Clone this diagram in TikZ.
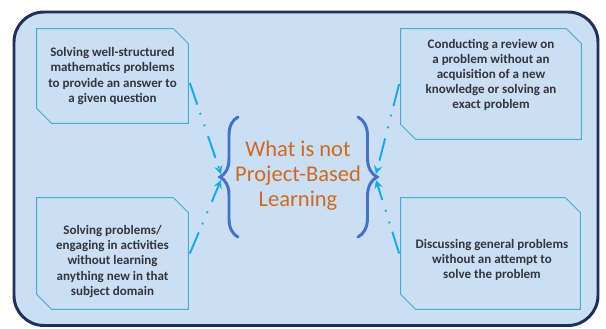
\documentclass[tikz,border=0pt]{standalone}
\usepackage{fontspec}
\setmainfont{Carlito}
\usetikzlibrary{arrows, decorations.pathreplacing, positioning}

\definecolor{framenavy}{RGB}{32,48,88}
\definecolor{paleblue}{RGB}{202,223,244}
\definecolor{boxline}{RGB}{78,168,208}
\definecolor{boxtextgray}{RGB}{52,52,60}
\definecolor{titleorange}{RGB}{205,105,35}
\definecolor{bracketblue}{RGB}{68,114,196}
\definecolor{linkcyan}{RGB}{20,170,230}

\begin{document}
\begin{tikzpicture}[
    % Node styles
    boxarea/.style={rectangle, inner sep=0pt},
    snipedge/.style={draw=boxline, line width=0.5pt, fill=paleblue},
    boxtext/.style={align=center, text=boxtextgray, font=\fontsize{7.4}{8.6}\selectfont\bfseries},
    title/.style={align=center, text=titleorange, font=\fontsize{12.8}{14.2}\selectfont},
    bracket/.style={decorate, draw=bracketblue, line width=1.7pt, line cap=round},
    link/.style={->, >=stealth, draw=linkcyan, line width=1.1pt,
                 dash pattern=on 13pt off 5pt on 1pt off 6pt on 1pt off 6pt}
]
\useasboundingbox (0,0) rectangle (12.12,6.58);

% Frame
\draw[framenavy, fill=paleblue, line width=1.7pt, rounded corners=0.6cm] (0.28,0.07) rectangle (11.96,6.34);

% Boxes
\node[boxarea, minimum width=3.02cm, minimum height=1.88cm] (tl) at (2.25,5.06) {};
\node[boxarea, minimum width=3.60cm, minimum height=2.20cm] (tr) at (9.82,4.90) {};
\node[boxarea, minimum width=3.02cm, minimum height=2.22cm] (bl) at (2.25,1.51) {};
\node[boxarea, minimum width=3.58cm, minimum height=2.22cm] (br) at (9.81,1.51) {};

% Snipped corners (north east and south west)
\foreach \b in {tl, tr, bl, br}
    \draw[snipedge] (\b.north west) -- ([xshift=-0.3cm]\b.north east) -- ([yshift=-0.3cm]\b.north east)
        -- (\b.south east) -- ([xshift=0.3cm]\b.south west) -- ([yshift=0.3cm]\b.south west) -- cycle;

\node[boxtext] (tltext) at (2.25,5.06) {Solving well-structured\\mathematics problems\\to provide an answer to\\a given question};
\node[boxtext] (trtext) at (9.82,5.08) {Conducting a review on\\a problem without an\\acquisition of a new\\knowledge or solving an\\exact problem};
\node[boxtext] (bltext) at (2.25,1.35) {Solving problems/\\engaging in activities\\without learning\\anything new in that\\subject domain};
\node[boxtext] (brtext) at (9.84,1.38) {Discussing general problems\\without an attempt to\\solve the problem};

% Title and brackets
\node[title] (what) at (5.96,3.06) {What is not\\Project-Based\\Learning};
\draw[bracket, decoration={brace, amplitude=0.36cm}] (4.76,1.84) -- (4.76,4.24);
\draw[bracket, decoration={brace, amplitude=0.38cm}] (7.16,4.24) -- (7.16,1.84);
\coordinate (ltip) at (4.42,3.04);
\coordinate (rtip) at (7.52,3.04);

% Links
\draw[link] ([xshift=0.03cm, yshift=-0.14cm]tl.east) -- ([yshift=0.06cm]ltip);
\draw[link] ([xshift=0.03cm]bl.east) -- ([yshift=-0.06cm]ltip);
\draw[link] ([xshift=-0.03cm]tr.west) -- ([yshift=0.06cm]rtip);
\draw[link] ([xshift=-0.03cm]br.west) -- ([yshift=-0.06cm]rtip);
\end{tikzpicture}
\end{document}
